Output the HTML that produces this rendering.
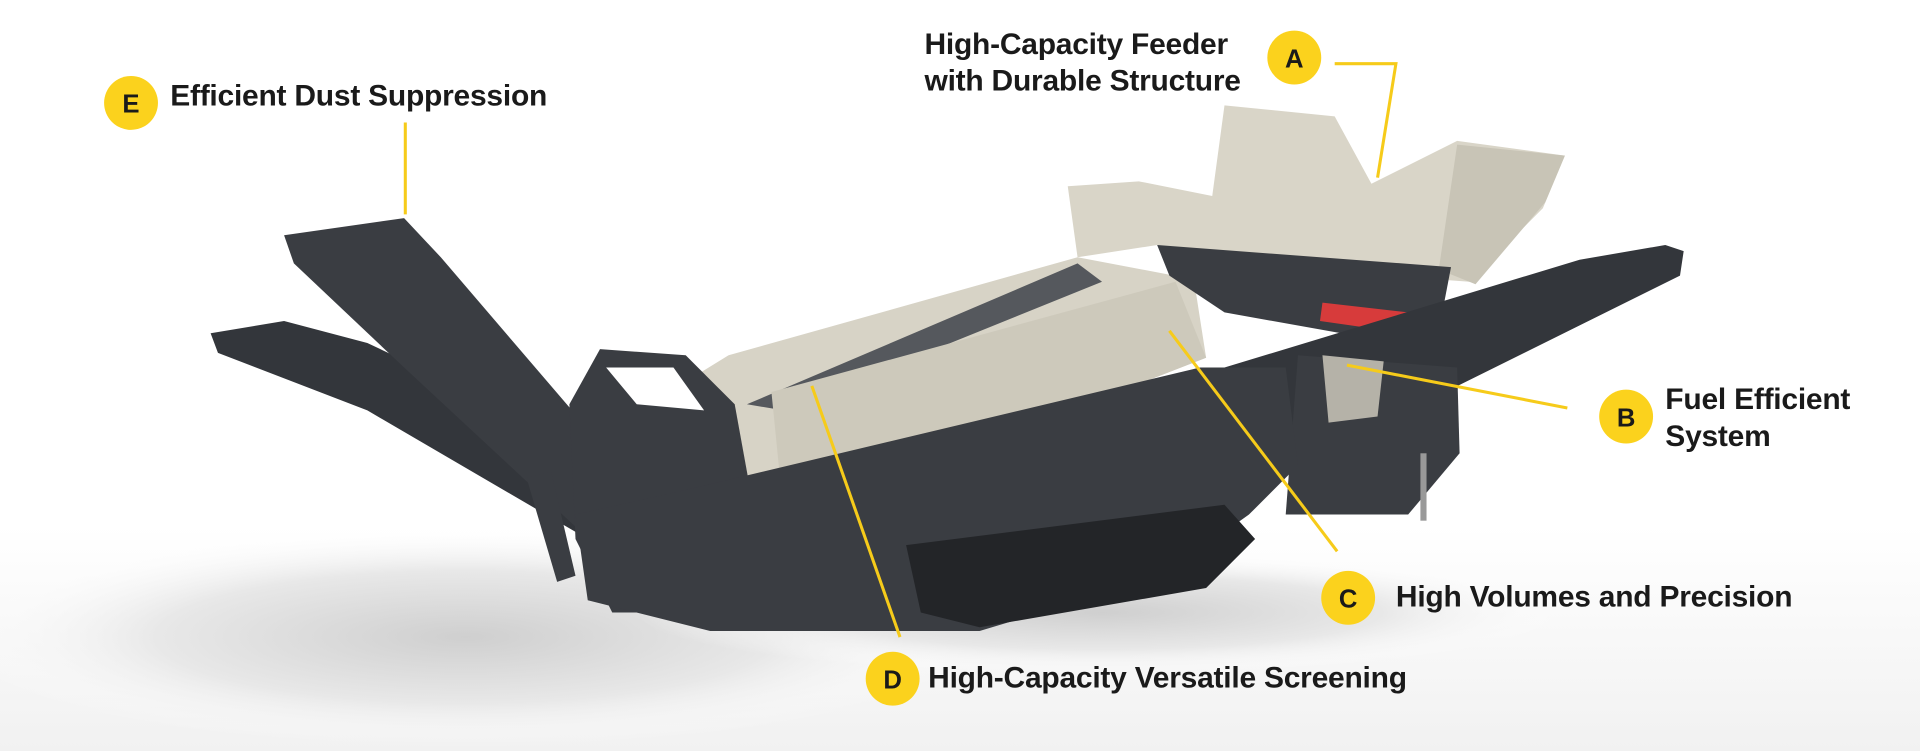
<!DOCTYPE html>
<html><head><meta charset="utf-8"><style>
html,body{margin:0;padding:0;background:#fff;}
svg{display:block;}
text{font-family:"Liberation Sans",sans-serif;fill:#1a1a1a;}
.lbl{font-size:24.5px;font-weight:bold;letter-spacing:-0.2px;}
.ci{font-size:21px;font-weight:bold;text-anchor:middle;}
</style></head><body>
<svg width="1920" height="751" viewBox="0 0 1568 613" preserveAspectRatio="none" xmlns="http://www.w3.org/2000/svg">
<defs>
<radialGradient id="sh" cx="0.5" cy="0.5" r="0.5">
<stop offset="0" stop-color="#cfcfcf"/><stop offset="0.6" stop-color="#e8e8e8"/><stop offset="1" stop-color="#fff" stop-opacity="0"/>
</radialGradient>
<linearGradient id="bg" x1="0" y1="0" x2="0" y2="1"><stop offset="0" stop-color="#fff"/><stop offset="0.7" stop-color="#fff"/><stop offset="1" stop-color="#f1f1f1"/></linearGradient>
</defs>
<rect width="1568" height="613" fill="url(#bg)"/>
<ellipse cx="380" cy="520" rx="420" ry="90" fill="url(#sh)"/>
<ellipse cx="900" cy="500" rx="380" ry="50" fill="url(#sh)"/>
<!-- left conveyors -->
<polygon points="172,272 232,262 300,280 470,360 520,420 480,440 300,335 178,288" fill="#33363b"/>
<polygon points="232,192 330,178 360,210 480,350 500,420 470,430 330,300 240,215" fill="#3a3d42"/>
<polygon points="430,390 450,385 470,470 455,475" fill="#3a3d42"/>
<!-- screen box -->
<polygon points="530,330 595,290 880,210 975,228 985,292 720,395 625,440 545,375" fill="#d7d3c6"/>
<polygon points="610,330 880,215 900,230 640,335" fill="#55585d"/>
<polygon points="630,320 960,230 985,292 720,395 640,420" fill="#cdc9bb"/>
<!-- feeder hopper -->
<polygon points="1000,86 1090,95 1120,150 1190,115 1278,127 1260,170 1200,230 1000,215 945,200 880,210 872,152 930,148 990,160" fill="#d9d5c8"/>
<polygon points="1190,118 1278,127 1262,165 1205,232 1175,220" fill="#c8c4b6"/>
<polygon points="945,200 1185,218 1175,270 1140,280 1000,255 955,225" fill="#3a3d42"/>
<polygon points="1080,247 1150,255 1148,272 1078,262" fill="#d73b3b"/>
<!-- right conveyor -->
<polygon points="1000,300 1290,212 1360,200 1375,205 1372,225 1150,335 1005,410" fill="#33363b"/>
<polygon points="1060,290 1190,300 1192,370 1150,420 1050,420" fill="#3a3d42"/>
<polygon points="1080,290 1130,295 1125,340 1085,345" fill="#b5b2a8"/>
<!-- left frame -->
<polygon points="465,330 490,285 560,290 600,330 620,440 560,500 500,500 470,440" fill="#3a3d42"/>
<polygon points="495,300 550,300 575,335 520,330" fill="#fff"/>
<!-- chassis -->
<polygon points="470,420 560,400 980,300 1050,300 1060,380 1020,420 950,470 800,515 580,515 480,490" fill="#3a3d42"/>
<polygon points="740,445 1000,412 1025,440 985,480 800,512 752,500" fill="#232528"/>
<rect x="1160" y="370" width="5" height="55" fill="#999"/>
<!-- connectors -->
<g stroke="#f6cb1a" stroke-width="2.5" fill="none">
<polyline points="1090,52 1140,52 1125,145"/>
<line x1="331" y1="100" x2="331" y2="175"/>
<line x1="1280" y1="333" x2="1100" y2="298"/>
<line x1="1092" y1="450" x2="955" y2="270"/>
<line x1="735" y1="520" x2="663" y2="315"/>
</g>
<g fill="#fbd21d">
<circle cx="1057" cy="47" r="22"/>
<circle cx="107" cy="84" r="22"/>
<circle cx="1328" cy="340" r="22"/>
<circle cx="1101" cy="488" r="22"/>
<circle cx="729" cy="554" r="22"/>
</g>
<text class="ci" x="1057" y="55">A</text>
<text class="ci" x="107" y="92">E</text>
<text class="ci" x="1328" y="348">B</text>
<text class="ci" x="1101" y="496">C</text>
<text class="ci" x="729" y="562">D</text>
<text class="lbl" x="755" y="44">High-Capacity Feeder</text>
<text class="lbl" x="755" y="74">with Durable Structure</text>
<text class="lbl" x="139" y="86">Efficient Dust Suppression</text>
<text class="lbl" x="1360" y="334">Fuel Efficient</text>
<text class="lbl" x="1360" y="364">System</text>
<text class="lbl" x="1140" y="495">High Volumes and Precision</text>
<text class="lbl" x="758" y="561">High-Capacity Versatile Screening</text>
</svg>
</body></html>
